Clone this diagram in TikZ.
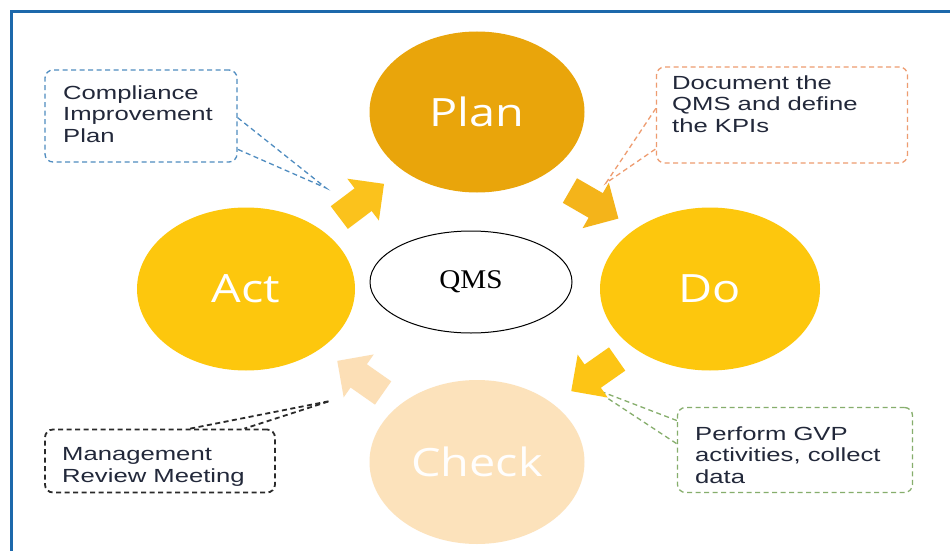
\documentclass[tikz,border=0pt]{standalone}
\usepackage{fontspec}
\usetikzlibrary{shapes.geometric,shapes.arrows}
\newfontfamily\notefont[FakeStretch=1.35]{Liberation Sans}
\newfontfamily\stagefont[FakeStretch=1.2]{Open Sans}
\newfontfamily\corefont[FakeStretch=1.08]{Liberation Serif}
\definecolor{frameblue}{HTML}{1D68AB}
\definecolor{plangold}{HTML}{E9A50B}
\definecolor{stageyellow}{HTML}{FDC70D}
\definecolor{checkpeach}{HTML}{FCE2BB}
\definecolor{arrowA}{HTML}{FBC21C}
\definecolor{arrowB}{HTML}{F4B41A}
\definecolor{arrowC}{HTML}{FDC515}
\definecolor{arrowD}{HTML}{FCDFB6}
\definecolor{noteblue}{HTML}{4F8CC0}
\definecolor{noteorange}{HTML}{EE9C70}
\definecolor{notegreen}{HTML}{86AE6C}
\definecolor{notedark}{HTML}{2A2A2A}
\definecolor{notetext}{HTML}{22283A}
\begin{document}
\begin{tikzpicture}[x=1pt,y=1pt,
  stage/.style={ellipse,inner sep=0pt,text=white,
    font=\stagefont\fontsize{39}{44}\selectfont},
  core/.style={ellipse,draw=black,line width=1pt,fill=white,inner sep=0pt,
    font=\corefont\fontsize{27}{30}\selectfont},
  flow/.style={single arrow,draw=none,inner xsep=0pt,inner ysep=14pt,
    minimum height=56pt,single arrow head extend=12pt,single arrow head indent=0pt},
  notebox/.style={rectangle,rounded corners=8pt,dashed,
    dash pattern=on 5pt off 3.5pt,line width=1.3pt,inner sep=0pt},
  tail/.style={dashed,dash pattern=on 5pt off 3.5pt,line width=1.3pt},
  note/.style={inner sep=0pt,align=left,text=notetext,
    font=\notefont\fontsize{19}{21.5}\selectfont}]
\useasboundingbox (0,0) rectangle (950,-551);
\fill[white] (0,0) rectangle (950,-551);
% frame
\draw[frameblue,line width=3pt] (11,-551) -- (11,-12) -- (950,-12);

% the four stages of the cycle and its core
\node[stage,fill=plangold,minimum width=215pt,minimum height=161pt] (plan) at (477,-112) {Plan};
\node[stage,fill=stageyellow,minimum width=218pt,minimum height=163pt] (act) at (246,-289) {Act};
\node[stage,fill=stageyellow,minimum width=220pt,minimum height=163pt] (do) at (710,-289) {Do};
\node[stage,fill=checkpeach,minimum width=215pt,minimum height=164pt,text=white!97!checkpeach] (check) at (477,-462) {Check};
\node[core,minimum width=202pt,minimum height=102pt] (qms) at (471,-282) {QMS};

% callout tips
\coordinate (p1) at (326,-188);
\coordinate (p2) at (606,-183);
\coordinate (p3) at (592,-388);
\coordinate (p4) at (330,-401);

% callout boxes
\node[notebox,draw=noteblue,minimum width=192pt,minimum height=92pt] (c1) at (141,-116) {};
\node[notebox,draw=noteorange,minimum width=251pt,minimum height=96pt] (c2) at (782,-115) {};
\node[notebox,draw=notegreen,minimum width=235pt,minimum height=85pt] (c3) at (795,-450) {};
\node[notebox,draw=notedark,line width=1.8pt,minimum width=230pt,minimum height=63pt] (c4) at (160,-461) {};

% callout tails
\draw[tail,draw=noteblue] (c1.-1) -- (p1) -- (c1.-19);
\draw[tail,draw=noteorange] (c2.177) -- (p2) -- (c2.195);
\draw[tail,draw=notegreen] (c3.166) -- (p3) -- (c3.177);
\draw[tail,draw=notedark,line width=1.8pt] (c4.47) -- (p4) -- (c4.21);

\node[note,anchor=base west] (t1) at (63,-142) {Compliance\\Improvement\\Plan};
\node[note,anchor=base west] (t2) at (672,-132) {Document the\\QMS and define\\the KPIs};
\node[note,anchor=base west] (t3) at (695,-483) {Perform GVP\\activities, collect\\data};
\node[note,anchor=base west] (t4) at (62,-482) {Management\\Review Meeting};

% cycle arrows
\node[flow,fill=arrowA,rotate=37] (a1) at (356,-205) {};
\node[flow,fill=arrowB,rotate=-30] (a2) at (588,-201) {};
\node[flow,fill=arrowC,rotate=215] (a3) at (600,-371) {};
\node[flow,fill=arrowD,rotate=145] (a4) at (366,-381) {};
\end{tikzpicture}
\end{document}
